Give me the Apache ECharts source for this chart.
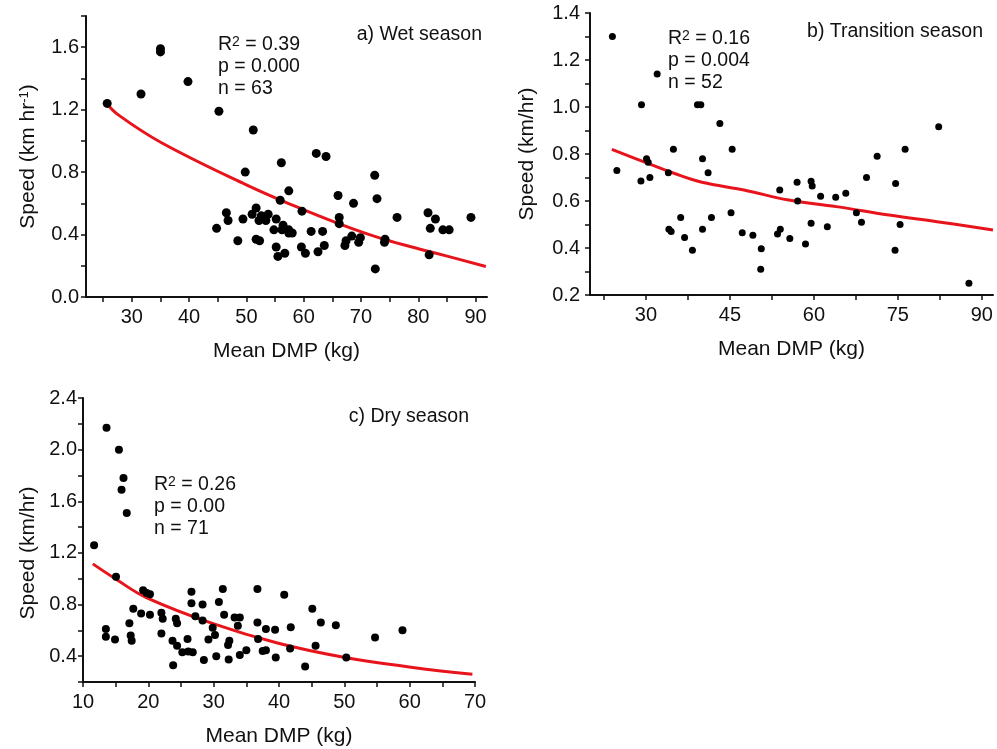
<!DOCTYPE html>
<html>
<head>
<meta charset="utf-8">
<script src="https://cdn.jsdelivr.net/npm/echarts@6/dist/echarts.min.js"></script>
<style>
html, body { margin: 0; background: #fff; }
#chart { width: 997px; height: 749px; }
</style>
</head>
<body>
<div id="chart"></div>
<script>
// a) wet season
var wetDMP = [25.7, 31.6, 35.0, 35.0, 39.8, 45.2, 51.2, 44.8, 46.5, 46.8, 48.5, 49.4, 49.8, 51.0, 51.7, 51.7,
    52.2, 52.3, 52.6, 53.4, 53.8, 54.8, 55.2, 55.2, 55.5, 55.9, 56.1, 56.2, 56.4, 56.7, 57.4, 57.4, 57.4, 58.0,
    59.7, 59.6, 60.3, 61.3, 62.2, 62.5, 63.3, 63.6, 63.9, 66.0, 66.2, 66.2, 67.2, 67.4, 68.4, 68.7, 69.6, 69.9,
    72.4, 72.8, 72.5, 74.1, 74.2, 76.3, 81.7, 82.1, 81.9, 83.0, 84.3, 85.4, 89.2];
var wetSpeed = [1.24, 1.30, 1.59, 1.57, 1.38, 1.19, 1.07, 0.44, 0.54, 0.49, 0.36, 0.50, 0.80, 0.53, 0.57, 0.37,
    0.49, 0.36, 0.52, 0.49, 0.53, 0.43, 0.50, 0.32, 0.26, 0.62, 0.86, 0.43, 0.46, 0.28, 0.68, 0.43, 0.41, 0.41,
    0.55, 0.32, 0.28, 0.42, 0.92, 0.29, 0.42, 0.33, 0.90, 0.65, 0.51, 0.47, 0.33, 0.36, 0.39, 0.60, 0.35, 0.38,
    0.78, 0.63, 0.18, 0.35, 0.37, 0.51, 0.54, 0.44, 0.27, 0.50, 0.43, 0.43, 0.51];
var wetFitDMP = [25.6, 27.7, 35.1, 49.9, 58.6, 66.1, 73.1, 78.9, 84.7, 91.8];
var wetFitSpeed = [1.24, 1.165, 0.99, 0.72, 0.58, 0.47, 0.38, 0.32, 0.265, 0.195];

// b) transition season
var transDMP = [24.0, 24.8, 29.2, 29.1, 30.1, 30.4, 30.7, 32.0, 34.0, 34.9, 34.1, 34.5, 36.2, 36.9, 38.3, 39.2,
    39.8, 40.1, 40.1, 41.1, 41.7, 43.2, 45.4, 45.2, 47.2, 49.1, 50.6, 50.5, 53.5, 54.0, 53.9, 55.7, 57.0, 57.1,
    58.5, 59.5, 59.7, 59.5, 61.2, 62.4, 63.9, 65.7, 67.6, 68.5, 69.4, 71.3, 74.6, 74.5, 75.4, 76.3, 82.3, 87.7];
var transSpeed = [1.30, 0.73, 1.01, 0.685, 0.78, 0.765, 0.70, 1.14, 0.72, 0.82, 0.48, 0.47, 0.53, 0.445, 0.39, 1.01,
    1.01, 0.78, 0.48, 0.72, 0.53, 0.93, 0.82, 0.55, 0.465, 0.454, 0.397, 0.31, 0.46, 0.48, 0.647, 0.44, 0.68, 0.60,
    0.417, 0.684, 0.664, 0.505, 0.62, 0.49, 0.616, 0.633, 0.55, 0.51, 0.70, 0.79, 0.675, 0.39, 0.50, 0.82, 0.916, 0.25];
var transFitDMP = [23.9, 30, 35, 40, 47.5, 55.5, 64, 73.4, 82, 92];
var transFitSpeed = [0.82, 0.763, 0.718, 0.68, 0.647, 0.604, 0.576, 0.54, 0.512, 0.477];

// c) dry season
var dryDMP = [11.7, 13.6, 13.5, 13.5, 14.9, 15.05, 15.5, 16.2, 15.9, 16.7, 17.1, 17.3, 17.45, 17.7, 18.9, 19.2,
    19.75, 20.25, 20.25, 22.0, 22.2, 22.0, 23.8, 23.7, 24.2, 24.4, 24.4, 25.2, 26.0, 26.1, 26.6, 26.6, 26.8, 27.2,
    28.3, 28.3, 28.5, 29.2, 29.85, 30.2, 30.4, 30.8, 31.4, 31.6, 32.2, 32.4, 32.3, 33.2, 33.7, 34.0, 34.0, 35.0,
    36.7, 36.7, 36.8, 37.5, 38.0, 38.0, 39.4, 39.5, 40.8, 41.7, 41.8, 44.0, 45.1, 45.6, 46.4, 48.7, 50.3, 54.7, 58.9];
var drySpeed = [1.26, 2.17, 0.61, 0.55, 0.53, 1.015, 2.0, 1.78, 1.69, 1.51, 0.656, 0.56, 0.52, 0.767, 0.73, 0.91,
    0.89, 0.88, 0.72, 0.736, 0.69, 0.575, 0.33, 0.52, 0.69, 0.656, 0.48, 0.43, 0.533, 0.436, 0.90, 0.81, 0.43, 0.71,
    0.80, 0.677, 0.37, 0.53, 0.62, 0.564, 0.40, 0.82, 0.92, 0.72, 0.487, 0.52, 0.375, 0.70, 0.636, 0.70, 0.41, 0.446,
    0.92, 0.66, 0.533, 0.44, 0.446, 0.61, 0.605, 0.39, 0.875, 0.46, 0.625, 0.32, 0.767, 0.48, 0.66, 0.64, 0.39, 0.544, 0.60];
var dryFitDMP = [11.5, 15, 19.7, 29.8, 39.9, 50.1, 60.2, 69.6];
var dryFitSpeed = [1.115, 0.998, 0.854, 0.654, 0.50, 0.39, 0.315, 0.26];

// ticks and labels
var wetXTicks = [25, 30, 35, 40, 45, 50, 55, 60, 65, 70, 75, 80, 85, 90];
var wetXLabels = [30, 40, 50, 60, 70, 80, 90];
var wetYTicks = [0, 0.2, 0.4, 0.6, 0.8, 1.0, 1.2, 1.4, 1.6, 1.8];
var wetYLabels = [0, 0.4, 0.8, 1.2, 1.6];
var transXTicks = [22.5, 30, 37.5, 45, 52.5, 60, 67.5, 75, 82.5, 90];
var transXLabels = [30, 45, 60, 75, 90];
var transYTicks = [0.2, 0.3, 0.4, 0.5, 0.6, 0.7, 0.8, 0.9, 1.0, 1.1, 1.2, 1.3, 1.4];
var transYLabels = [0.2, 0.4, 0.6, 0.8, 1.0, 1.2, 1.4];
var dryXTicks = [10, 15, 20, 25, 30, 35, 40, 45, 50, 55, 60, 65, 70];
var dryXLabels = [10, 20, 30, 40, 50, 60, 70];
var dryYTicks = [0.2, 0.4, 0.6, 0.8, 1.0, 1.2, 1.4, 1.6, 1.8, 2.0, 2.2, 2.4];
var dryYLabels = [0.4, 0.8, 1.2, 1.6, 2.0, 2.4];

var FONT = '"Liberation Sans", Arial, sans-serif';

function pairs(xs, ys) {
    return xs.map(function (x, i) { return [x, ys[i]]; });
}

function xAxisFor(idx, min, max, ticks, labels) {
    return {
        gridIndex: idx, type: 'value', min: min, max: max,
        name: 'Mean DMP (kg)', nameLocation: 'middle', nameGap: 44,
        nameTextStyle: { fontFamily: FONT, fontSize: 21, color: '#111' },
        axisLine: { onZero: false, lineStyle: { color: '#111', width: 2 } },
        axisTick: { customValues: ticks, length: 5, lineStyle: { color: '#111', width: 1.5 } },
        axisLabel: { customValues: labels, margin: 10, fontFamily: FONT, fontSize: 20, color: '#111' },
        splitLine: { show: false }
    };
}

function yAxisFor(idx, min, max, ticks, labels, name, gap, pad, margin) {
    return {
        gridIndex: idx, type: 'value', min: min, max: max,
        name: name, nameLocation: 'middle', nameGap: gap,
        nameTextStyle: {
            fontFamily: FONT, fontSize: 21, color: '#111', padding: pad,
            rich: { sup: { fontFamily: FONT, fontSize: 13, color: '#111', verticalAlign: 'top', lineHeight: 13 } }
        },
        axisLine: { onZero: false, lineStyle: { color: '#111', width: 2 } },
        axisTick: { customValues: ticks, length: 5, lineStyle: { color: '#111', width: 1.5 } },
        axisLabel: {
            customValues: labels, margin: margin, fontFamily: FONT, fontSize: 20, color: '#111',
            formatter: function (v) { return v.toFixed(1); }
        },
        splitLine: { show: false }
    };
}

function dots(idx, xs, ys, size) {
    return {
        type: 'scatter', xAxisIndex: idx, yAxisIndex: idx,
        data: pairs(xs, ys), symbolSize: size,
        itemStyle: { color: '#000', opacity: 1 }, z: 3
    };
}

function fit(idx, xs, ys) {
    return {
        type: 'line', xAxisIndex: idx, yAxisIndex: idx,
        data: pairs(xs, ys), smooth: 0.4, showSymbol: false, symbol: 'none',
        lineStyle: { color: '#e8141b', width: 3 }, z: 2
    };
}

var supRich = { sup: { fontFamily: FONT, fontSize: 14, fill: '#111', verticalAlign: 'top', lineHeight: 14 } };

function note(x, y, text, align) {
    return {
        type: 'text', x: x, y: y,
        style: {
            text: text, fill: '#111', fontFamily: FONT, fontSize: 19.5,
            align: align || 'left', verticalAlign: 'middle', rich: supRich
        }
    };
}

var myChart = echarts.init(document.getElementById('chart'));
var option = {
    backgroundColor: '#fff',
    animation: false,
    grid: [
        { left: 86, top: 16, width: 401, height: 281 },
        { left: 590, top: 13, width: 403, height: 282 },
        { left: 83, top: 398, width: 392, height: 284 }
    ],
    xAxis: [
        xAxisFor(0, 22, 92, wetXTicks, wetXLabels),
        xAxisFor(1, 20, 92, transXTicks, transXLabels),
        xAxisFor(2, 10, 70, dryXTicks, dryXLabels)
    ],
    yAxis: [
        yAxisFor(0, 0, 1.8, wetYTicks, wetYLabels, 'Speed (km hr{sup|-1})', 47, [0, 0, 0, 0], 7),
        yAxisFor(1, 0.2, 1.4, transYTicks, transYLabels, 'Speed (km/hr)', 52, [0, 0, 0, 0], 10),
        yAxisFor(2, 0.2, 2.4, dryYTicks, dryYLabels, 'Speed (km/hr)', 44, [0, 26, 0, 0], 6)
    ],
    series: [
        dots(0, wetDMP, wetSpeed, 9),
        fit(0, wetFitDMP, wetFitSpeed),
        dots(1, transDMP, transSpeed, 7),
        fit(1, transFitDMP, transFitSpeed),
        dots(2, dryDMP, drySpeed, 8),
        fit(2, dryFitDMP, dryFitSpeed)
    ],
    graphic: [
        note(482, 35, 'a) Wet season', 'right'),
        note(218, 45, 'R{sup|2} = 0.39'),
        note(218, 67, 'p = 0.000'),
        note(218, 89, 'n = 63'),
        note(983, 32, 'b) Transition season', 'right'),
        note(668, 39, 'R{sup|2} = 0.16'),
        note(668, 61, 'p = 0.004'),
        note(668, 83, 'n = 52'),
        note(469, 417, 'c) Dry season', 'right'),
        note(154, 485, 'R{sup|2} = 0.26'),
        note(154, 507, 'p = 0.00'),
        note(154, 529, 'n = 71')
    ]
};
myChart.setOption(option);
</script>
</body>
</html>
